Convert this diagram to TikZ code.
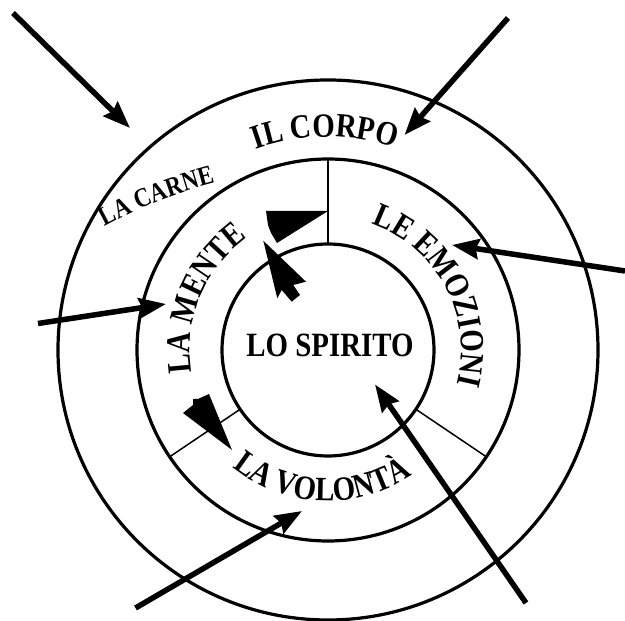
\documentclass[tikz,border=0pt]{standalone}
\usepackage{fontspec}
\setmainfont{Liberation Serif}[FakeStretch=0.85]
\usetikzlibrary{arrows.meta,decorations.text,calc}
\newcommand\bigf{\bfseries\fontsize{34}{34}\selectfont}
\newcommand\midf{\bfseries\fontsize{27}{27}\selectfont}
\begin{document}
\begin{tikzpicture}[x=1pt,y=1pt,
  ring/.style={line width=3.2pt},
  divider/.style={line width=1.5pt},
  inarrow/.style={line width=5.5pt, -{Stealth[length=27pt,width=20pt,inset=3pt]}},
  blob/.style={fill=black}]
\useasboundingbox (0,0) rectangle (625,621);
\coordinate (C) at (328,271);
% rings
\draw[ring] (C) circle[radius=106pt];
\draw[ring] (C) circle[radius=191pt];
\draw[ring] (C) circle[radius=270pt];
% dividers
\draw[divider] ($(C)+(90:106pt)$) -- ($(C)+(90:191pt)$);
\draw[divider] ($(C)+(-34:106pt)$) -- ($(C)+(-34:191pt)$);
\draw[divider] ($(C)+(214:106pt)$) -- ($(C)+(214:191pt)$);
% curved labels
\path[decorate, decoration={text along path, text align=center, text={|\bigf|IL CORPO}}]
  ($(C)+(150.8:213pt)$) arc[start angle=150.8, end angle=30.8, radius=213pt];
\path[decorate, decoration={text along path, text align=center, text={|\bigf|LA MENTE}}]
  ($(C)+(220:138pt)$) arc[start angle=220, end angle=95, radius=138pt];
\path[decorate, decoration={text along path, text align=center, text={|\bigf|LE EMOZIONI}}]
  ($(C)+(90:133pt)$) arc[start angle=90, end angle=-34, radius=133pt];
\path[decorate, decoration={text along path, text align=center, text={|\bigf|LA VOLONTÀ}}]
  ($(C)+(200:151pt)$) arc[start angle=200, end angle=334.8, radius=151pt];
\coordinate (Cc) at (334,-26);
\path[decorate, decoration={text along path, text align=center, text={|\midf|LA CARNE}}]
  ($(Cc)+(125:479pt)$) arc[start angle=125, end angle=98, radius=479pt];
% centre label
\node[anchor=base, inner sep=0pt, font=\bigf] (spirito) at (330,264) {LO SPIRITO};
% arrows
\coordinate (a1s) at (13,608);   \coordinate (a1e) at (130,493);
\coordinate (a2s) at (508,603);  \coordinate (a2e) at (404.5,486);
\coordinate (a3s) at (625,350);  \coordinate (a3e) at (452,376);
\coordinate (a4s) at (38,297.5); \coordinate (a4e) at (166,317);
\coordinate (a5s) at (135.5,13); \coordinate (a5e) at (302,110);
\coordinate (a6s) at (526,18);   \coordinate (a6e) at (375,236.5);
\draw[inarrow] (a1s) -- (a1e);
\draw[inarrow] (a2s) -- (a2e);
\draw[inarrow] (a3s) -- (a3e);
\draw[inarrow] (a4s) -- (a4e);
\draw[inarrow] (a5s) -- (a5e);
\draw[inarrow] (a6s) -- (a6e);
% inner pointer shapes
\fill[blob] (266,410) -- (328,410) -- (277,378) -- (271,388) -- (268,396) -- cycle;
\fill[blob] (263.3,380.3) -- (277.3,322.7) -- (281.7,331) -- (291.7,319.3) -- (300,326) -- (293.3,336) -- (306,339.3) -- cycle;
\fill[blob] (209,227) -- (198,222) -- (193,222) -- (193,216) -- (183,208) -- (232,171) -- cycle;
\end{tikzpicture}
\end{document}
